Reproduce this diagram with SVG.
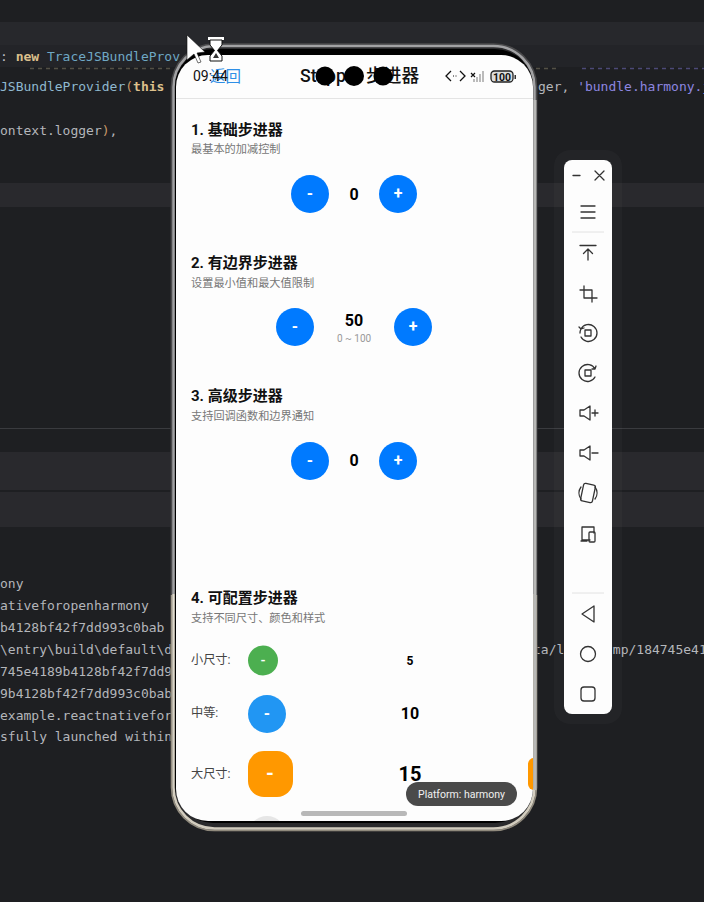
<svg xmlns="http://www.w3.org/2000/svg" width="704" height="902" viewBox="0 0 704 902">
<style>
text{font-family:Roboto,"Noto Sans CJK SC",sans-serif}
.code{font-family:"DejaVu Sans Mono","Liberation Mono",monospace;font-size:13px;fill:#b4b6bb;white-space:pre}
.h{font-size:15px;font-weight:700;fill:#111}
.s{font-size:11.200px;fill:#777}
.l{font-size:12.200px;fill:#444}
.v{font-weight:700;fill:#000;text-anchor:middle}
.bt{fill:#fff;font-weight:700;text-anchor:middle}
.blue{fill:#007aff}
.ic{fill:none;stroke:#333;stroke-width:1.3;stroke-linejoin:round;stroke-linecap:round}
</style>
<defs>
<linearGradient id="fr" x1="0" y1="0" x2="0" y2="1">
<stop offset="0" stop-color="#a2a2a4"/><stop offset="0.7" stop-color="#a2a2a4"/><stop offset="0.701" stop-color="#e0dacc"/><stop offset="1" stop-color="#d2ccbe"/>
</linearGradient>
<linearGradient id="fd" x1="0" y1="0" x2="0" y2="1">
<stop offset="0" stop-color="#4a4a4c"/><stop offset="0.7" stop-color="#4a4a4c"/><stop offset="0.701" stop-color="#a09a8c"/><stop offset="1" stop-color="#8f897c"/>
</linearGradient>
<clipPath id="sc"><rect x="176" y="55" width="357" height="766" rx="32"/></clipPath>
</defs>
<g id="background">
<rect width="704" height="902" fill="#1e1f22"/>
<rect y="22" width="704" height="23" fill="#27282c"/>
<rect y="45" width="704" height="22" fill="#232428"/>
<rect y="183" width="704" height="24" fill="#29292d"/>
<rect y="428" width="704" height="1" fill="#3a3b3f"/>
<rect y="452" width="704" height="38" fill="#29292d"/>
<rect y="492" width="704" height="35" fill="#29292d"/>
<text class="code" x="0" y="61"><tspan fill="#bcbec4">: </tspan><tspan fill="#dcc08c" font-weight="700">new </tspan><tspan fill="#6fa8c4">TraceJSBundleProv</tspan></text>
<text class="code" x="0" y="91"><tspan fill="#8fb8cf">JSBundleProvider</tspan><tspan fill="#c99a6a">(</tspan><tspan fill="#dcc08c" font-weight="700">this</tspan></text>
<text class="code" x="0" y="135">ontext.logger<tspan fill="#c99a6a">)</tspan>,</text>
<text class="code" x="538" y="91">ger, <tspan fill="#8d86e0">'bundle.harmony.j</tspan></text>
<path d="M30 68.500H170M536 68.500H560" stroke="#77725f" stroke-width="1.500" stroke-dasharray="4 4" fill="none" opacity=".6"/>
<path d="M582 68.500H704" stroke="#6a66b0" stroke-width="1.500" stroke-dasharray="4 4" fill="none" opacity=".6"/>
<text class="code" x="0" y="588">ony</text>
<text class="code" x="0" y="610">ativeforopenharmony</text>
<text class="code" x="0" y="632">b4128bf42f7dd993c0bab</text>
<text class="code" x="0" y="654">\entry\build\default\d</text>
<text class="code" x="0" y="676">745e4189b4128bf42f7dd9</text>
<text class="code" x="0" y="698">9b4128bf42f7dd993c0bab</text>
<text class="code" x="0" y="720">example.reactnativefor</text>
<text class="code" x="0" y="741">sfully launched within</text>
<text class="code" x="533" y="654">ta/l</text>
<text class="code" x="605" y="654">tmp/184745e41</text>
</g>
<g id="toolbar">
<rect x="554" y="150" width="68" height="574" rx="16" fill="#fff" opacity=".025"/>
<rect x="564" y="160" width="48" height="554" rx="8" fill="#fdfdfd"/>
<path class="ic" d="M573 175.500H580M595 171L604 180M604 171L595 180"/>
<path class="ic" d="M581 206H595M581 212H595M581 218H595" stroke="#555"/>
<path d="M572 232H604M572 593H604" stroke="#e2e2e2" stroke-width="1"/>
<path class="ic" d="M580 245.500H596M588 260V249M583.500 253.500L588 249L592.500 253.500"/>
<path class="ic" d="M584 286V298H597M580 290H592V302"/>
<path class="ic" d="M581 329A8.500 8.500 0 1 1 581 337M580 333A8.500 8.500 0 0 1 581 329M579 327L581 329L584 328"/>
<rect class="ic" x="585" y="330" width="6" height="6"/>
<path class="ic" d="M595 369A8.500 8.500 0 1 0 595 377M595 369L596 366M595 369L592 369"/>
<rect class="ic" x="585" y="370" width="6" height="6"/>
<path class="ic" d="M580 410H584L590 406V420L584 416H580ZM592 413H598M595 410V416"/>
<path class="ic" d="M580 450H584L590 446V460L584 456H580ZM592 453H598"/>
<g transform="rotate(12 588 493)"><rect class="ic" x="582" y="484" width="12" height="18" rx="2"/></g>
<path class="ic" d="M581 487A10 10 0 0 0 581 499M595 487A10 10 0 0 1 595 499"/>
<path class="ic" d="M590 540H582V527H594V533M581 541H587"/>
<rect class="ic" x="589" y="532" width="6" height="10" rx="1"/>
<path class="ic" d="M594 606L582 614L594 622Z"/>
<circle class="ic" cx="588" cy="654" r="7.500"/>
<rect class="ic" x="581" y="687" width="14" height="14" rx="3"/>
</g>
<g id="phone">
<rect x="170.500" y="43" width="367" height="788.500" rx="44" fill="#2a2a2c"/>
<rect x="171.500" y="44" width="365" height="786.500" rx="43" fill="none" stroke="url(#fd)" stroke-width="1.500"/>
<rect x="173.500" y="46" width="361" height="782.500" rx="41" fill="none" stroke="url(#fr)" stroke-width="2.500"/>
<rect x="175" y="49" width="358" height="774" rx="38" fill="#000"/>
<path d="M535 100V790" stroke="#b8b8b6" stroke-width="3"/>
<g clip-path="url(#sc)">
<rect x="176" y="55" width="357" height="766" fill="#fdfdfd"/>
<rect x="176" y="98" width="357" height="1" fill="#e4e4e4"/>
<rect x="528" y="758" width="12" height="32" rx="6" fill="#ff9800"/>
<circle cx="267" cy="835" r="19" fill="#e6e6e6"/>
</g>
</g>
<g id="nav">
<text x="210" y="81.500" font-size="15.500" fill="#2f8fe6">返回</text>
<text x="193" y="81" font-size="14" fill="#111">09:44</text>
<text x="300" y="82" font-size="17.700" font-weight="500" fill="#111">Stepper 步进器</text>
<circle cx="325" cy="76" r="9.500" fill="#000"/><circle cx="354" cy="76" r="10" fill="#000"/><circle cx="383" cy="76" r="9.500" fill="#000"/>
<path d="M451 71L446 76L451 81M460 71L465 76L460 81" fill="none" stroke="#111" stroke-width="1.300"/>
<path d="M453 76H458" stroke="#111" stroke-dasharray="1 1.500"/>
<path d="M471 73L475 77M475 73L471 77" stroke="#111" stroke-width="1.200"/>
<path d="M474 82V79M477 82V77M480 82V74M483 82V71" stroke="#bbb" stroke-width="2"/>
<rect x="491" y="71" width="22" height="11" rx="3.500" fill="#ddd" stroke="#222" stroke-width="1.300"/>
<rect x="514.500" y="75" width="1.500" height="4" fill="#333"/>
<text x="502" y="80.500" font-size="10.500" font-weight="700" fill="#111" text-anchor="middle">100</text>
</g>
<g id="stepper-1">
<text class="h" x="191" y="135">1. 基础步进器</text>
<text class="s" x="191" y="153">最基本的加减控制</text>
<circle class="blue" cx="310" cy="194" r="19"/><text class="bt" x="310" y="199" font-size="16">-</text>
<text class="v" x="354" y="200" font-size="16">0</text>
<circle class="blue" cx="398" cy="194" r="19"/><text class="bt" x="398" y="199" font-size="16">+</text>
</g>
<g id="stepper-2">
<text class="h" x="191" y="268">2. 有边界步进器</text>
<text class="s" x="191" y="287">设置最小值和最大值限制</text>
<circle class="blue" cx="295" cy="327" r="19"/><text class="bt" x="295" y="332" font-size="16">-</text>
<text class="v" x="354" y="326" font-size="16">50</text>
<text x="354" y="342" font-size="10" fill="#999" text-anchor="middle">0 ~ 100</text>
<circle class="blue" cx="413" cy="327" r="19"/><text class="bt" x="413" y="332" font-size="16">+</text>
</g>
<g id="stepper-3">
<text class="h" x="191" y="401">3. 高级步进器</text>
<text class="s" x="191" y="420">支持回调函数和边界通知</text>
<circle class="blue" cx="310" cy="461" r="19"/><text class="bt" x="310" y="466" font-size="16">-</text>
<text class="v" x="354" y="466" font-size="16">0</text>
<circle class="blue" cx="398" cy="461" r="19"/><text class="bt" x="398" y="466" font-size="16">+</text>
</g>
<g id="stepper-4">
<text class="h" x="191" y="603">4. 可配置步进器</text>
<text class="s" x="191" y="622">支持不同尺寸、颜色和样式</text>
<text class="l" x="191" y="664">小尺寸:</text>
<circle cx="263" cy="660.500" r="15" fill="#4caf50"/><text class="bt" x="263" y="664.500" font-size="13">-</text>
<text class="v" x="410" y="665" font-size="12">5</text>
<text class="l" x="191" y="717">中等:</text>
<circle cx="267" cy="714" r="19" fill="#2196f3"/><text class="bt" x="267" y="719" font-size="16">-</text>
<text class="v" x="410" y="719" font-size="16">10</text>
<text class="l" x="191" y="778">大尺寸:</text>
<rect x="248" y="751" width="45" height="46" rx="16" fill="#ff9800"/><text class="bt" x="270" y="780" font-size="20">-</text>
<text class="v" x="410" y="781" font-size="20">15</text>
</g>
<g id="toast">
<rect x="406" y="782" width="111" height="24" rx="12" fill="#4a4a4a"/>
<text x="461.500" y="798" font-size="10.500" fill="#f0f0f0" text-anchor="middle">Platform: harmony</text>
<rect x="301" y="811" width="106" height="5" rx="2.500" fill="#b8b8b8"/>
</g>
<g id="cursor">
<path d="M187 35L205 52L197 53L201 62L198 63L194 54L187 60Z" fill="#fff" stroke="#111" stroke-width=".6"/>
<path d="M208 38.500H224M208 62H224" stroke="#fff" stroke-width="3"/>
<path d="M210 40H222V45L217.500 50.500L222 56V61H210V56L214.500 50.500L210 45Z" fill="#fff" stroke="#111" stroke-width="1"/>
<path d="M213 58H219L216 53Z" fill="#333"/>
</g>
</svg>
